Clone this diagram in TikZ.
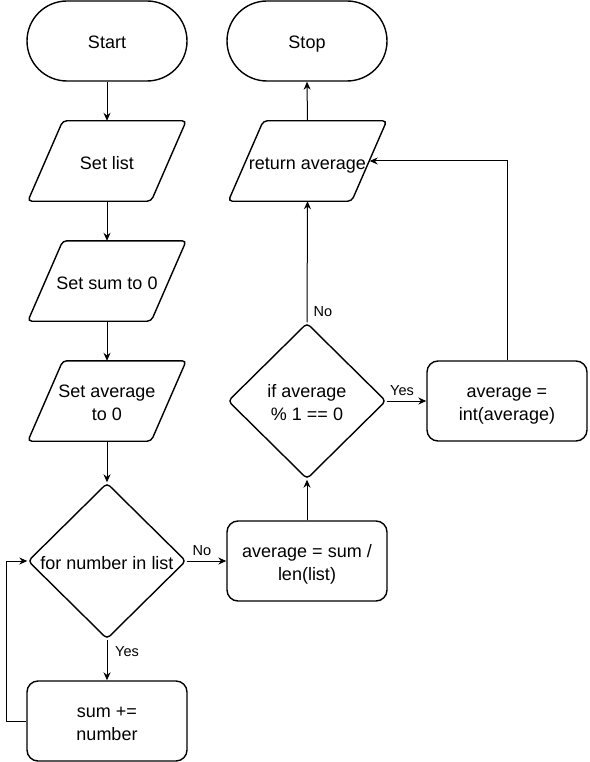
\documentclass[tikz,border=0pt]{standalone}
\usepackage{fontspec}
\setmainfont{Liberation Sans}
\usetikzlibrary{arrows.meta,shapes.geometric,calc}
\newcommand\ioshape[1]{%
  \draw[iobord] ($(#1.north west)+(35,0)$) -- (#1.north east) -- ($(#1.south east)+(-35,0)$) -- (#1.south west) -- cycle;}
\newcommand\topstrut{\rule{0pt}{16pt}}
\newcommand\botstrut{\rule[-1pt]{0pt}{1pt}}
\begin{document}
\begin{tikzpicture}[x=1pt,y=-1pt,
  every node/.style={font=\fontsize{18}{23}\selectfont, align=center, inner sep=0pt},
  one/.style={text height=16pt, text depth=0pt},
  box/.style={draw, line width=1.4pt, rounded corners=11pt, minimum width=160pt, minimum height=80pt},
  term/.style={draw, line width=1.4pt, rounded corners=40pt, minimum width=160pt, minimum height=80pt},
  dec/.style={draw, diamond, line width=1.4pt, rounded corners=4pt, minimum width=158pt, minimum height=156pt},
  io/.style={minimum width=158pt, minimum height=80pt},
  iobord/.style={line width=1.4pt, rounded corners=4pt},
  conn/.style={line width=1pt, -{Stealth[length=8pt,width=7pt]}},
  lbl/.style={font=\fontsize{14.5}{17}\selectfont}
]
\fill[white] (0,0) rectangle (589,762);
\useasboundingbox (0,0) rectangle (589,762);

\node[term, one] (start) at (107,41) {Start};
\node[io, one] (setlist) at (107,161) {Set list};
\ioshape{setlist}
\node[io, one] (setsum) at (107,281) {Set sum to 0};
\ioshape{setsum}
\node[io] (setavg) at (107,401) {\topstrut Set average\\to 0\botstrut};
\ioshape{setavg}
\node[dec, one] (loop) at (107,561) {for number in list};
\node[box] (sum) at (107,721) {\topstrut sum +=\\number\botstrut};
\node[box] (avg) at (307,561) {\topstrut average = sum /\\\smash{len(list)}\botstrut};
\node[dec] (ifd) at (307,401) {\topstrut if average\\\% 1 == 0\botstrut};
\node[box] (int) at (507,401) {\topstrut average =\\\smash{int(average)}\botstrut};
\node[io, one] (ret) at (307.5,161) {return average};
\ioshape{ret}
\node[term, one] (stop) at (307,41) {Stop};
\coordinate (retE) at ($(ret.east)+(-17,0)$);

\draw[conn] (start.south) -- (setlist.north);
\draw[conn] (setlist.south) -- (setsum.north);
\draw[conn] (setsum.south) -- (setavg.north);
\draw[conn] (setavg.south) -- (loop.north);
\draw[conn] (loop.south) -- (sum.north);
\draw[conn] (sum.west) -- ++(-20,0) |- (loop.west);
\draw[conn] (loop.east) -- (avg.west);
\draw[conn] (avg.north) -- (ifd.south);
\draw[conn] (ifd.north) -- (ret.south);
\draw[conn] (ifd.east) -- (int.west);
\draw[conn] (int.north) |- (retE);
\draw[conn] (ret.north) -- (stop.south);

\node[lbl] (yes1) at (127,652) {Yes};
\node[lbl] (no1) at (202,551) {No};
\node[lbl] (no2) at (323,312) {No};
\node[lbl] (yes2) at (402,391) {Yes};
\end{tikzpicture}
\end{document}
